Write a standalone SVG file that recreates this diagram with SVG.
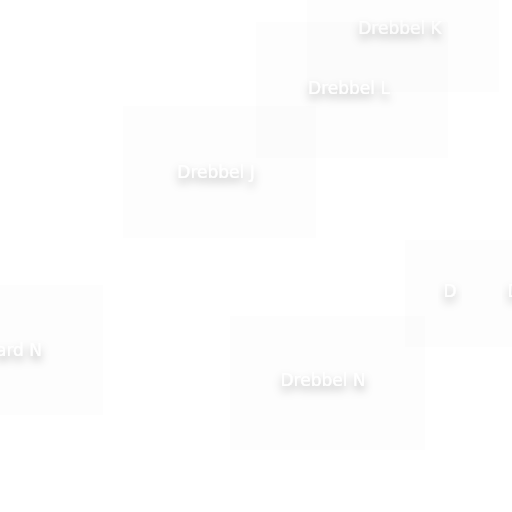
<svg xmlns="http://www.w3.org/2000/svg" width="512" height="512" viewBox="0 0 512 512">
  <defs>
    <filter id="ts" x="-40%" y="-100%" width="180%" height="320%">
      <feDropShadow dx="0" dy="5" stdDeviation="4.5" flood-color="#000" flood-opacity="0.3"/>
    </filter>
  </defs>
  <style>
    .box { fill: #000000; fill-opacity: 0.008; }
    .lbl { fill: #ffffff; font-family: "DejaVu Sans", "Liberation Sans", sans-serif; font-size: 17px; text-anchor: middle; filter: url(#ts); }
  </style>
  <rect width="512" height="512" fill="#ffffff"/>
  <g id="connectors"></g>
  <g id="node-k">
    <rect class="box" x="307" y="-40" width="192" height="132"/>
    <text class="lbl" x="400" y="34">Drebbel K</text>
  </g>
  <g id="node-l">
    <rect class="box" x="256" y="22" width="192" height="136"/>
    <text class="lbl" x="349" y="94">Drebbel L</text>
  </g>
  <g id="node-j">
    <rect class="box" x="123" y="106" width="193" height="132"/>
    <text class="lbl" x="216" y="178">Drebbel J</text>
  </g>
  <g id="node-d">
    <rect class="box" x="405" y="240" width="120" height="107"/>
    <text class="lbl" x="450" y="297">D</text>
    <text class="lbl" x="514" y="297">D</text>
  </g>
  <g id="node-ardn">
    <rect class="box" x="-90" y="285" width="193" height="130"/>
    <text class="lbl" x="42" y="356" style="text-anchor:end">ard N</text>
  </g>
  <g id="node-n">
    <rect class="box" x="230" y="316" width="195" height="134"/>
    <text class="lbl" x="323" y="386">Drebbel N</text>
  </g>
</svg>
